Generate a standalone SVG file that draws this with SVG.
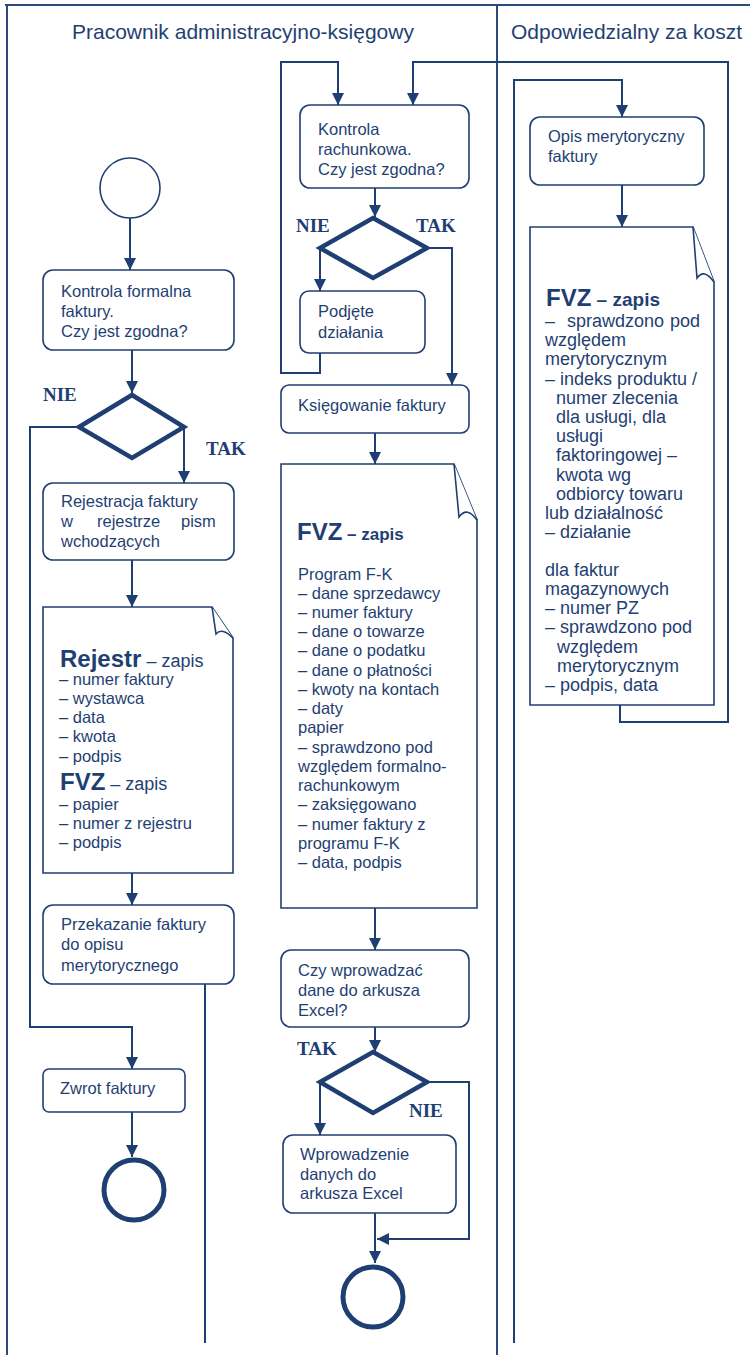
<svg xmlns="http://www.w3.org/2000/svg" width="750" height="1355" viewBox="0 0 750 1355">
<style>
.frame{fill:none;stroke:#2c4a7c;stroke-width:2}
.box{fill:#fff;stroke:#1f3f73;stroke-width:1.6}
.dec{fill:#fff;stroke:#1f3f73;stroke-width:4.5;stroke-linejoin:miter}
.con{fill:none;stroke:#1f3f73;stroke-width:2}
.arr{fill:none;stroke:#1f3f73;stroke-width:2;marker-end:url(#ah)}
.t{font-family:"Liberation Sans",Arial,sans-serif;font-size:16.5px;fill:#1f3f73}
.r{font-size:18px}
.h{font-family:"Liberation Sans",Arial,sans-serif;font-size:21px;fill:#1f3f73}
.lbl{font-family:"Liberation Serif","Times New Roman",serif;font-size:19px;font-weight:bold;fill:#1f3f73}
.big{font-size:24px;font-weight:bold}
.sb{font-size:17px;font-weight:bold}
.sb2{font-size:19px;font-weight:bold}
.sn{font-size:18px}
.e{text-anchor:end}
</style>
<defs>
<marker id="ah" markerUnits="userSpaceOnUse" markerWidth="12" markerHeight="12" refX="12" refY="6" orient="auto">
<path d="M0,0 L12,6 L0,12 z" fill="#1f3f73"/>
</marker>
</defs>
<rect width="750" height="1355" fill="#fff"/>
<g id="frame">
<path class="frame" d="M5,5 H750 M7,5 V1355 M497,5 V1355"/>
<text class="h" x="72" y="39">Pracownik administracyjno-księgowy</text>
<text class="h" x="511" y="39">Odpowiedzialny za koszt</text>
</g>
<g id="connectors">
<path class="arr" d="M130,218 V270"/>
<path class="arr" d="M132,350 V393"/>
<path class="arr" d="M78,427 H30 V1027 H132 V1069"/>
<path class="arr" d="M184,427 V483"/>
<path class="arr" d="M132,560 V607"/>
<path class="arr" d="M132,873 V905"/>
<path class="con" d="M205,984 V1343"/>
<path class="arr" d="M132,1112 V1157"/>
<path class="arr" d="M320,353 V373 H281 V62 H338 V105"/>
<path class="arr" d="M620,705 V722 H728 V62 H413 V105"/>
<path class="arr" d="M375,188 V217"/>
<path class="arr" d="M320,248 V291"/>
<path class="arr" d="M427,248 H452 V385"/>
<path class="arr" d="M375,433 V464"/>
<path class="arr" d="M375,908 V950"/>
<path class="arr" d="M375,1027 V1052"/>
<path class="arr" d="M320,1082 V1135"/>
<path class="arr" d="M427,1082 H469 V1239 H377"/>
<path class="arr" d="M375,1213 V1263"/>
<path class="arr" d="M514,1343 V80 H622 V117"/>
<path class="arr" d="M622,185 V227"/>
</g>
<g id="start">
<circle cx="130" cy="188" r="30" fill="#fff" stroke="#1f3f73" stroke-width="1.6"/>
</g>
<g id="kontrola-formalna">
<rect class="box" x="43" y="270" width="191" height="80" rx="10"/>
<text class="t" x="61" y="297">Kontrola formalna</text>
<text class="t" x="61" y="317">faktury.</text>
<text class="t" x="61" y="337">Czy jest zgodna?</text>
</g>
<g id="decyzja-1">
<polygon class="dec" points="132,395 184,427 132,458 79,427"/>
<text class="lbl" x="43" y="401">NIE</text>
<text class="lbl" x="206" y="455">TAK</text>
</g>
<g id="rejestracja">
<rect class="box" x="43" y="483" width="191" height="77" rx="10"/>
<text class="t" x="61" y="507">Rejestracja faktury</text>
<text class="t" y="527"><tspan x="61">w</tspan><tspan x="97">rejestrze</tspan><tspan x="181">pism</tspan></text>
<text class="t" x="61" y="547">wchodzących</text>
</g>
<g id="rejestr-doc">
<path class="box" d="M43,607 H212 L233,638 V873 H43 Z"/>
<path class="box" fill="none" d="M212,607 L216,634 Q222,627 233,638"/>
<text class="t" x="60" y="667"><tspan class="big">Rejestr</tspan><tspan class="sn"> – zapis</tspan></text>
<text class="t" x="59" y="685">– numer faktury</text>
<text class="t" x="59" y="704">– wystawca</text>
<text class="t" x="59" y="723">– data</text>
<text class="t" x="59" y="742">– kwota</text>
<text class="t" x="59" y="762">– podpis</text>
<text class="t" x="60" y="790"><tspan class="big">FVZ</tspan><tspan class="sn"> – zapis</tspan></text>
<text class="t" x="59" y="810">– papier</text>
<text class="t" x="59" y="829">– numer z rejestru</text>
<text class="t" x="59" y="848">– podpis</text>
</g>
<g id="przekazanie">
<rect class="box" x="43" y="905" width="191" height="79" rx="10"/>
<text class="t" x="61" y="930">Przekazanie faktury</text>
<text class="t" x="61" y="950">do opisu</text>
<text class="t" x="61" y="971">merytorycznego</text>
</g>
<g id="zwrot">
<rect class="box" x="43" y="1069" width="142" height="43" rx="6"/>
<text class="t" x="60" y="1094">Zwrot faktury</text>
</g>
<g id="end-1">
<circle cx="134" cy="1190" r="30" fill="#fff" stroke="#1f3f73" stroke-width="5"/>
</g>
<g id="kontrola-rachunkowa">
<rect class="box" x="300" y="105" width="169" height="83" rx="10"/>
<text class="t" x="318" y="135">Kontrola</text>
<text class="t" x="318" y="155">rachunkowa.</text>
<text class="t" x="318" y="175">Czy jest zgodna?</text>
</g>
<g id="decyzja-2">
<polygon class="dec" points="373,218 427,248 373,278 320,248"/>
<text class="lbl" x="296" y="232">NIE</text>
<text class="lbl" x="416" y="232">TAK</text>
</g>
<g id="podjete">
<rect class="box" x="300" y="291" width="125" height="62" rx="9"/>
<text class="t" x="318" y="317">Podjęte</text>
<text class="t" x="318" y="338">działania</text>
</g>
<g id="ksiegowanie">
<rect class="box" x="281" y="385" width="188" height="48" rx="8"/>
<text class="t" x="298" y="411">Księgowanie faktury</text>
</g>
<g id="fvz-doc">
<path class="box" d="M281,464 H454 L477,520 V908 H281 Z"/>
<path class="box" fill="none" d="M454,464 L459,517 Q467,506 477,520"/>
<text class="t" x="297" y="540"><tspan class="big">FVZ</tspan><tspan class="sb"> – zapis</tspan></text>
<text class="t" x="298" y="580">Program F-K</text>
<text class="t" x="298" y="599">– dane sprzedawcy</text>
<text class="t" x="298" y="618">– numer faktury</text>
<text class="t" x="298" y="637">– dane o towarze</text>
<text class="t" x="298" y="656">– dane o podatku</text>
<text class="t" x="298" y="676">– dane o płatności</text>
<text class="t" x="298" y="695">– kwoty na kontach</text>
<text class="t" x="298" y="714">– daty</text>
<text class="t" x="298" y="733">papier</text>
<text class="t" x="298" y="753">– sprawdzono pod</text>
<text class="t" x="298" y="772">względem formalno-</text>
<text class="t" x="298" y="791">rachunkowym</text>
<text class="t" x="298" y="810">– zaksięgowano</text>
<text class="t" x="298" y="830">– numer faktury z</text>
<text class="t" x="298" y="849">programu  F-K</text>
<text class="t" x="298" y="868">– data, podpis</text>
</g>
<g id="czy-excel">
<rect class="box" x="281" y="950" width="188" height="77" rx="10"/>
<text class="t" x="298" y="976">Czy wprowadzać</text>
<text class="t" x="298" y="996">dane do arkusza</text>
<text class="t" x="298" y="1016">Excel?</text>
</g>
<g id="decyzja-3">
<polygon class="dec" points="373,1052 427,1082 373,1113 320,1082"/>
<text class="lbl" x="297" y="1055">TAK</text>
<text class="lbl" x="409" y="1117">NIE</text>
</g>
<g id="wprowadzenie">
<rect class="box" x="283" y="1135" width="173" height="78" rx="10"/>
<text class="t" x="300" y="1160">Wprowadzenie</text>
<text class="t" x="300" y="1180">danych  do</text>
<text class="t" x="300" y="1199">arkusza Excel</text>
</g>
<g id="end-2">
<circle cx="373" cy="1297" r="30" fill="#fff" stroke="#1f3f73" stroke-width="5"/>
</g>
<g id="opis">
<rect class="box" x="530" y="117" width="174" height="68" rx="10"/>
<text class="t" x="548" y="142">Opis merytoryczny</text>
<text class="t" x="548" y="162">faktury</text>
</g>
<g id="opis-doc">
<path class="box" d="M530,227 H693 L714,282 V705 H530 Z"/>
<path class="box" fill="none" d="M693,227 L697,278 Q704,268 714,282"/>
<text class="t" x="546" y="306"><tspan class="big">FVZ</tspan><tspan class="sb2"> – zapis</tspan></text>
<text class="t r" y="327"><tspan x="545">–</tspan><tspan x="567">sprawdzono</tspan><tspan class="e" x="700">pod</tspan></text>
<text class="t r" x="545" y="346">względem</text>
<text class="t r" x="545" y="365">merytorycznym</text>
<text class="t r" x="545" y="385">– indeks produktu /</text>
<text class="t r" x="556" y="404">numer zlecenia</text>
<text class="t r" x="556" y="423">dla usługi, dla</text>
<text class="t r" x="556" y="442">usługi</text>
<text class="t r" x="556" y="461">faktoringowej –</text>
<text class="t r" x="556" y="481">kwota wg</text>
<text class="t r" x="556" y="500">odbiorcy towaru</text>
<text class="t r" x="545" y="519">lub działalność</text>
<text class="t r" x="545" y="538">– działanie</text>
<text class="t r" x="545" y="576">dla faktur</text>
<text class="t r" x="545" y="595">magazynowych</text>
<text class="t r" x="545" y="614">– numer PZ</text>
<text class="t r" x="545" y="633">– sprawdzono pod</text>
<text class="t r" x="557" y="653">względem</text>
<text class="t r" x="557" y="672">merytorycznym</text>
<text class="t r" x="545" y="691">– podpis, data</text>
</g>
</svg>
